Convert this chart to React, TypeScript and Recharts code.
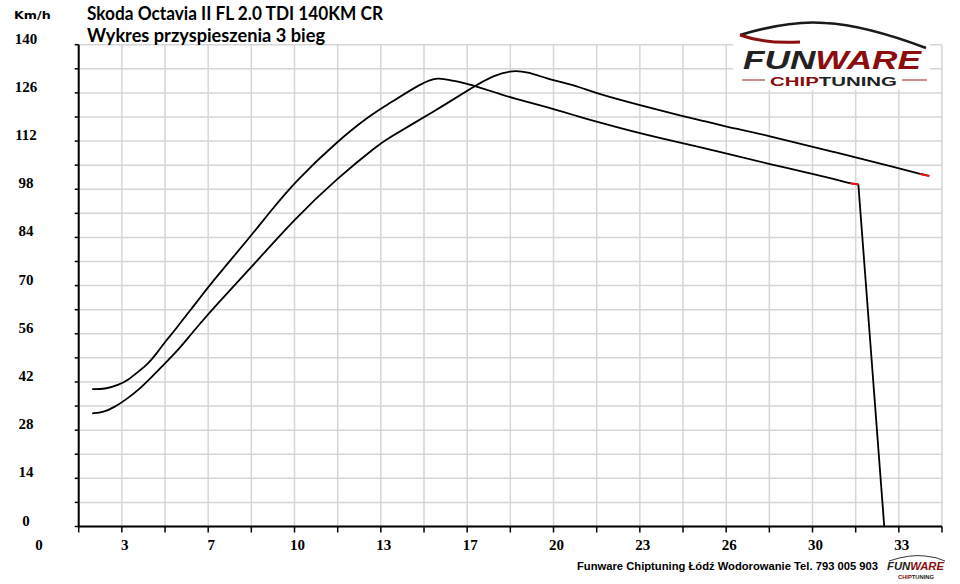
import React from "react";
import { LineChart, Line, XAxis, YAxis, CartesianGrid } from "recharts";

// time [s] and speed [km/h]
const timeA = [2.19, 2.68, 3.2, 3.58, 3.97, 4.36, 4.68, 5.0, 5.39, 5.77, 6.29, 6.71, 8.35, 9.05, 10.02, 11.63, 12.92, 13.62, 14.97, 15.55, 16.0, 16.65, 17.16, 17.81, 18.45, 19.74, 21.02, 21.67, 23.34, 25.01, 26.43, 28.23, 30.8, 31.45, 31.77];
const speedA = [39.9, 39.9, 41.1, 42.6, 45.0, 47.4, 50.3, 53.7, 57.1, 60.9, 65.8, 70.1, 84.7, 91.4, 100.2, 111.8, 119.5, 122.7, 129.2, 130.5, 129.7, 128.7, 127.5, 126.0, 124.4, 121.9, 119.0, 117.6, 114.2, 111.3, 108.9, 105.5, 101.1, 99.7, 99.4];
const dropTime = [31.77, 32.77];
const dropSpeed = [99.4, 0];

const timeB = [2.19, 2.62, 3.07, 3.46, 3.97, 4.49, 5.0, 5.51, 6.03, 6.42, 6.86, 8.35, 10.02, 11.63, 13.3, 13.62, 14.59, 15.88, 16.9, 17.68, 18.45, 18.97, 19.74, 20.25, 21.02, 21.67, 23.34, 25.01, 25.66, 26.43, 28.23, 30.8, 33.38, 34.15, 34.51];
const speedB = [32.9, 33.1, 34.8, 36.7, 39.6, 43.5, 47.4, 51.3, 56.1, 59.5, 63.4, 75.5, 89.5, 101.1, 111.3, 112.8, 117.1, 122.9, 127.7, 131.1, 132.6, 132.1, 130.2, 129.2, 127.7, 125.8, 122.4, 119.2, 118.1, 116.6, 113.7, 108.9, 104.0, 102.4, 101.9];

const xTicks = [1.667, 3.333, 5, 6.667, 8.333, 10, 11.667, 13.333, 15, 16.667, 18.333, 20, 21.667, 23.333, 25, 26.667, 28.333, 30, 31.667, 33.333, 35];
const xTickLabels = ["", "3", "", "7", "", "10", "", "13", "", "17", "", "20", "", "23", "", "26", "", "30", "", "33", ""];
const yTicks = [0, 7, 14, 21, 28, 35, 42, 49, 56, 63, 70, 77, 84, 91, 98, 105, 112, 119, 126, 133, 140];
const yLabelStep = 14;

const toRows = (t: number[], v: number[]) => t.map((x, i) => ({ t: x, v: v[i] }));
const curveA = toRows(timeA, speedA);
const curveB = toRows(timeB, speedB);
const dropA = toRows(dropTime, dropSpeed);
const tipA = curveA.slice(-2);
const tipB = curveB.slice(-2);

const tickFont = { fontFamily: "'Liberation Serif', serif", fontWeight: 700, fontSize: 15, fill: "#000" };

// eslint-disable-next-line @typescript-eslint/no-explicit-any
function XTick({ x, y, payload }: any) {
  const i = xTicks.indexOf(payload.value);
  const label = xTickLabels[i];
  if (!label) return null;
  return (
    <text x={x + 3} y={y + 17.5} textAnchor="middle" {...tickFont}>
      {label}
    </text>
  );
}

// eslint-disable-next-line @typescript-eslint/no-explicit-any
function YTick({ x, y, payload }: any) {
  if (payload.value % yLabelStep !== 0) return null;
  return (
    <text x={x - 48.7} y={y - 1} textAnchor="middle" {...tickFont}>
      {payload.value}
    </text>
  );
}

function Overlay() {
  const sans = "'DejaVu Sans', sans-serif";
  const lib = "'Liberation Sans', sans-serif";
  return (
    <svg width={960} height={584} style={{ position: "absolute", left: 0, top: 0, pointerEvents: "none" }}>
      <text x={14} y={19} fontFamily={sans} fontWeight={700} fontSize={11} textLength={36.7} lengthAdjust="spacingAndGlyphs">
        Km/h
      </text>
      <text x={87} y={20} fontFamily="Lato, sans-serif" fontWeight={700} fontSize={18} textLength={296} lengthAdjust="spacingAndGlyphs">
        Skoda Octavia II FL 2.0 TDI 140KM CR
      </text>
      <text x={87} y={41.5} fontFamily="Lato, sans-serif" fontWeight={700} fontSize={18} textLength={238} lengthAdjust="spacingAndGlyphs">
        Wykres przyspieszenia 3 bieg
      </text>
      <text x={39} y={550} textAnchor="middle" {...tickFont}>
        0
      </text>

      {/* logo, top right */}
      <rect x={733} y={28} width={197} height={62} fill="#fff" />
      <path d="M740 35 Q790 20 825 23 Q865 25 926 48" fill="none" stroke="#1a1a1a" strokeWidth={2.5} />
      <path d="M740 35 Q765 44 800 42" fill="none" stroke="#8b1010" strokeWidth={3} />
      <text x={743} y={69} fontFamily={lib} fontStyle="italic" fontWeight={700} fontSize={25} textLength={178} lengthAdjust="spacingAndGlyphs">
        <tspan fill="#222">FUN</tspan>
        <tspan fill="#8b0d0d">WARE</tspan>
      </text>
      <line x1={742} y1={80} x2={765} y2={80} stroke="#b04040" strokeWidth={1.2} />
      <line x1={902} y1={80} x2={927} y2={80} stroke="#b04040" strokeWidth={1.2} />
      <text x={770} y={85.5} fontFamily={lib} fontWeight={700} fontSize={13} textLength={127} lengthAdjust="spacingAndGlyphs">
        <tspan fill="#8b0d0d">CHIP</tspan>
        <tspan fill="#222">TUNING</tspan>
      </text>

      {/* footer */}
      <text x={577} y={569.5} fontFamily={lib} fontWeight={700} fontSize={10} textLength={301} lengthAdjust="spacingAndGlyphs">
        Funware Chiptuning Łódź Wodorowanie Tel. 793 005 903
      </text>
      <path d="M889 561 Q910 554 925 556 Q937 557 945 561" fill="none" stroke="#333" strokeWidth={1} />
      <text x={887} y={570} fontFamily={lib} fontStyle="italic" fontWeight={700} fontSize={10} textLength={57} lengthAdjust="spacingAndGlyphs">
        <tspan fill="#222">FUN</tspan>
        <tspan fill="#8b0d0d">WARE</tspan>
      </text>
      <text x={898} y={579} fontFamily={lib} fontWeight={700} fontSize={5} textLength={36} lengthAdjust="spacingAndGlyphs">
        <tspan fill="#8b0d0d">CHIP</tspan>
        <tspan fill="#222">TUNING</tspan>
      </text>
    </svg>
  );
}

export default function App() {
  return (
    <div style={{ position: "absolute", left: 0, top: 0, width: 960, height: 584, background: "#fff" }}>
      <LineChart width={960} height={584} margin={{ top: 44.7, right: 18, bottom: 27.5, left: 18.7 }}>
        <CartesianGrid stroke="#d6d6d6" strokeWidth={1.5} />
        <XAxis
          type="number"
          dataKey="t"
          domain={[1.667, 35]}
          ticks={xTicks}
          interval={0}
          allowDataOverflow
          height={30}
          tickSize={6}
          tickMargin={0}
          axisLine={{ stroke: "#000", strokeWidth: 2 }}
          tickLine={{ stroke: "#000", strokeWidth: 1.5 }}
          tick={<XTick />}
        />
        <YAxis
          type="number"
          domain={[0, 140]}
          ticks={yTicks}
          interval={0}
          width={60}
          tickSize={4}
          tickMargin={0}
          axisLine={{ stroke: "#000", strokeWidth: 2 }}
          tickLine={{ stroke: "#000", strokeWidth: 1.5 }}
          tick={<YTick />}
        />
        <Line data={curveB} dataKey="v" type="basis" stroke="#000" strokeWidth={1.8} dot={false} isAnimationActive={false} />
        <Line data={curveA} dataKey="v" type="basis" stroke="#000" strokeWidth={1.8} dot={false} isAnimationActive={false} />
        <Line data={dropA} dataKey="v" type="linear" stroke="#000" strokeWidth={1.8} dot={false} isAnimationActive={false} />
        <Line data={tipA} dataKey="v" type="linear" stroke="#ff1010" strokeWidth={1.8} dot={false} isAnimationActive={false} />
        <Line data={tipB} dataKey="v" type="linear" stroke="#ff1010" strokeWidth={1.8} dot={false} isAnimationActive={false} />
      </LineChart>
      <Overlay />
    </div>
  );
}
